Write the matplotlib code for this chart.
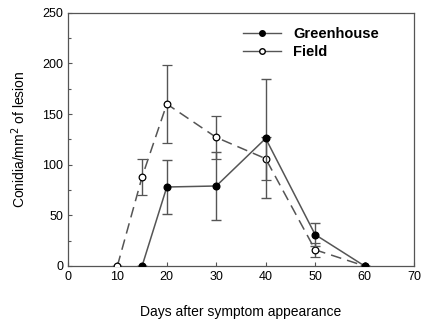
import matplotlib.pyplot as plt
from matplotlib.lines import Line2D
from matplotlib.ticker import MultipleLocator

plt.rcParams['font.family'] = ['Liberation Sans', 'DejaVu Sans']

# Greenhouse series
gh_days = [15, 20, 30, 40, 50, 60]
gh_conidia = [0, 78, 79, 126, 31, 0]
gh_err = [0, 27, 34, 59, 11, 0]

# Field series
fd_days = [10, 15, 20, 30, 40, 50, 60]
fd_conidia = [0, 88, 160, 127, 106, 16, 0]
fd_err = [0, 18, 39, 21, 21, 7, 0]

grey = '#555555'

fig = plt.figure(figsize=(4.22, 3.22), dpi=100)
ax = fig.add_axes([0.161, 0.174, 0.82, 0.786])

ax.errorbar(fd_days, fd_conidia, yerr=fd_err, color=grey, lw=1.1,
            dashes=(7, 4), marker='o', ms=4.8, mfc='white', mec='black',
            mew=0.9, ecolor=grey, elinewidth=1.0, capsize=3.5, capthick=1.0,
            zorder=3)
ax.errorbar(gh_days, gh_conidia, yerr=gh_err, color=grey, lw=1.1,
            ls='-', marker='o', ms=4.8, mfc='black', mec='black',
            ecolor=grey, elinewidth=1.0, capsize=3.5, capthick=1.0,
            zorder=4)

ax.set_xlim(0, 70)
ax.set_ylim(0, 250)
ax.xaxis.set_major_locator(MultipleLocator(10))
ax.yaxis.set_major_locator(MultipleLocator(50))
ax.yaxis.set_minor_locator(MultipleLocator(25))
ax.tick_params(direction='in', which='both', colors=grey, labelcolor='black',
               labelsize=9, length=3, width=0.8)
ax.tick_params(which='minor', length=2)
for s in ax.spines.values():
    s.set_color(grey)
    s.set_linewidth(0.9)

ax.set_xlabel('Days after symptom appearance', fontsize=10, labelpad=16)
ax.set_ylabel('Conidia/mm$^2$ of lesion', fontsize=10, labelpad=10)

handles = [
    Line2D([], [], color=grey, lw=1.0, marker='o', ms=4, mfc='black', mec='black'),
    Line2D([], [], color=grey, lw=1.0, marker='o', ms=4, mfc='white', mec='black'),
]
ax.legend(handles, ['Greenhouse', 'Field'], loc='upper right', frameon=False,
          prop={'weight': 'bold', 'size': 10.5}, handlelength=2.6,
          borderaxespad=0.6, bbox_to_anchor=(0.94, 1.0), labelspacing=0.25,
          handletextpad=0.8)

fig.savefig('out.png', dpi=100)
